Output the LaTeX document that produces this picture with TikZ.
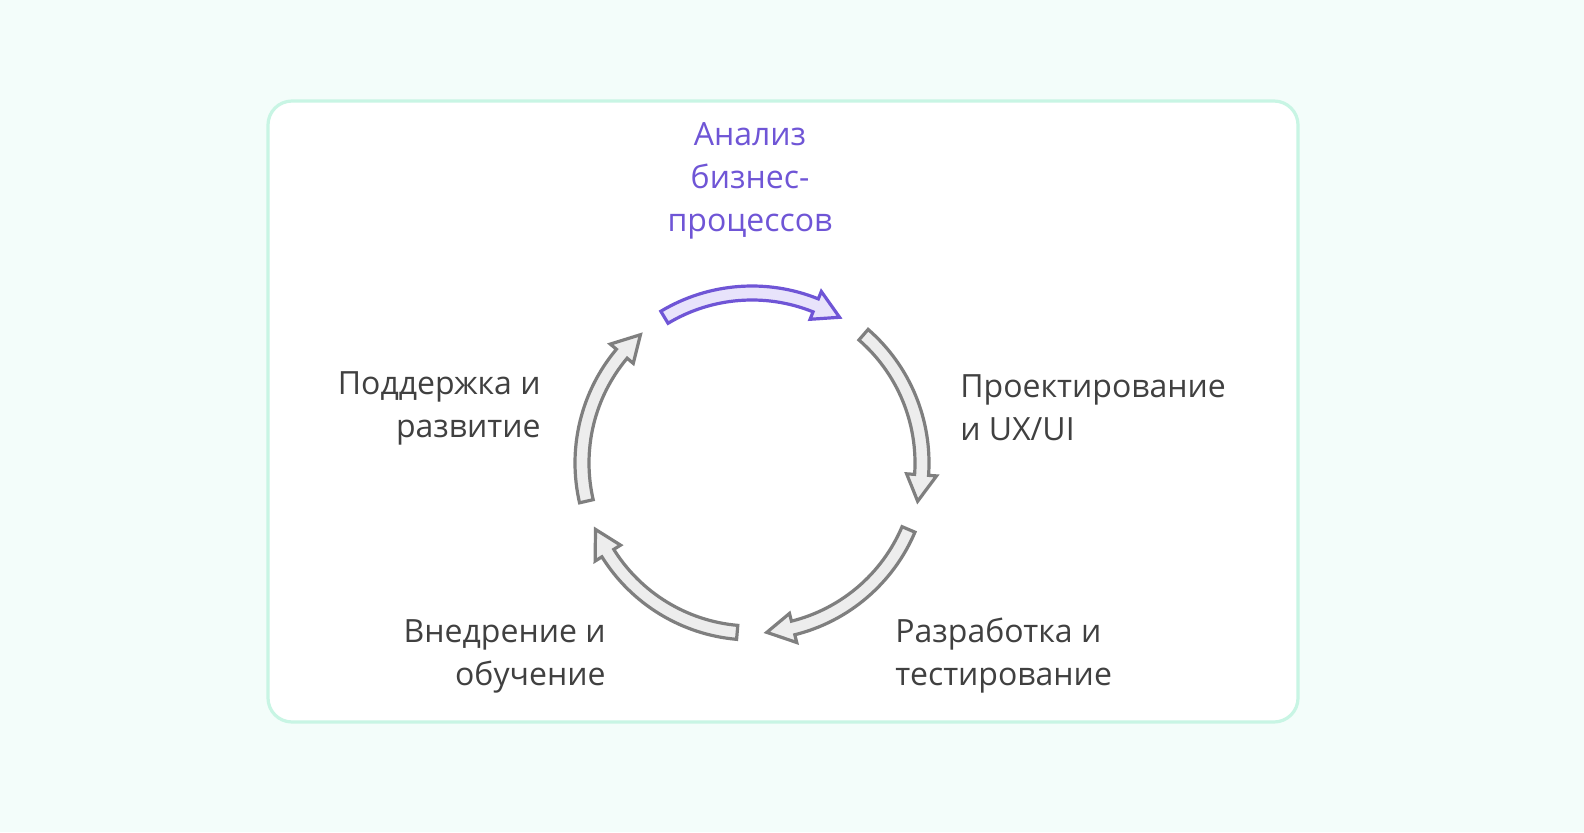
\documentclass[tikz,border=0pt]{standalone}
\usepackage{fontspec}
\setmainfont{Open Sans}
\definecolor{bgmint}{HTML}{F3FDFA}
\definecolor{framemint}{HTML}{C8F5E4}
\definecolor{txtgray}{HTML}{404040}
\definecolor{purpleline}{HTML}{6F55D6}
\definecolor{purplefill}{HTML}{E8E3FB}
\definecolor{grayline}{HTML}{7F7F7F}
\definecolor{grayfill}{HTML}{EDEDED}
\tikzset{
  stage/.style={font=\fontsize{16}{21.5}\selectfont, text=txtgray, inner sep=0pt},
  grayarrow/.style={draw=grayline, fill=grayfill, line width=1.6pt, line join=miter},
  purplearrow/.style={draw=purpleline, fill=purplefill, line width=1.6pt, line join=miter}
}
% curved block arrow around the centre, centred at angle #1
\newcommand{\cyclearrow}[2]{%
  \draw[#2] ({#1+31}:177) arc ({#1+31}:{#1-22}:177) -- ({#1-22}:185)
    -- ({#1-31}:170) -- ({#1-22}:155) -- ({#1-22}:163)
    arc ({#1-22}:{#1+31}:163) -- cycle;}
\begin{document}
\begin{tikzpicture}[x=0.5pt,y=0.5pt]
\useasboundingbox[fill=bgmint] (0,0) rectangle (1584,832);
\draw[framemint, line width=1.6pt, fill=white, rounded corners=12pt] (268,110) rectangle (1298,731);

\begin{scope}[shift={(752,369)}]
\cyclearrow{90}{purplearrow}
\cyclearrow{18}{grayarrow}
\cyclearrow{-54}{grayarrow}
\cyclearrow{-126}{grayarrow}
\cyclearrow{162}{grayarrow}
\end{scope}

\node[stage, text=purpleline, align=center] (analysis) at (750,651) {Анализ\\бизнес-\\процессов};
\node[stage, align=left, anchor=west] (design) at (960,424) {Проектирование\\и UX/UI};
\node[stage, align=left, anchor=west] (dev) at (895,176) {Разработка и\\тестирование};
\node[stage, align=right, anchor=east] (deploy) at (606,176) {Внедрение и\\обучение};
\node[stage, align=right, anchor=east] (support) at (541,424) {Поддержка и\\развитие};
\end{tikzpicture}
\end{document}
